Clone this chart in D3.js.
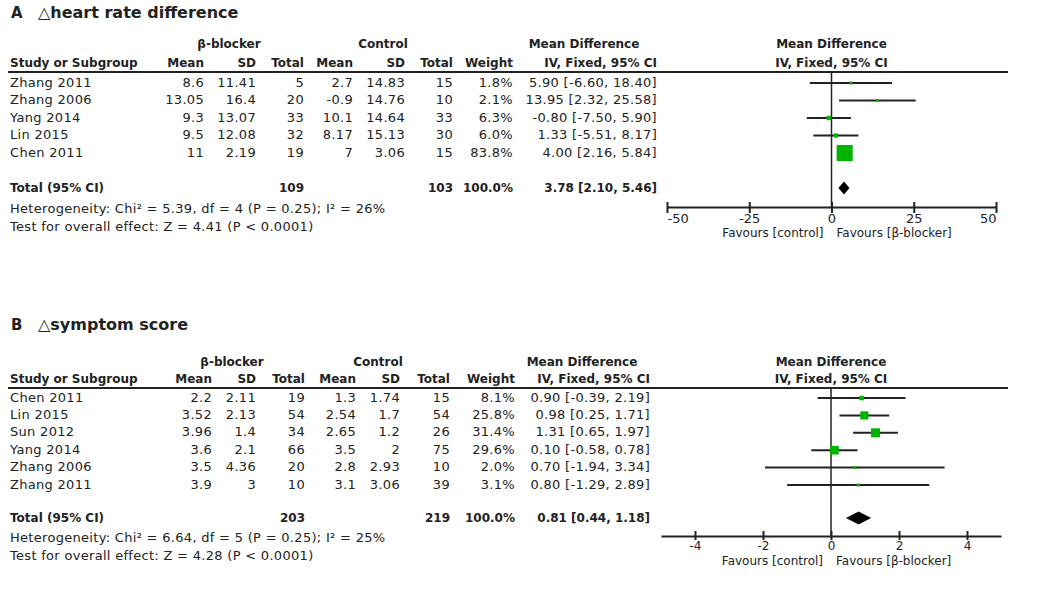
<!DOCTYPE html>
<html>
<head>
    <meta charset="utf-8">
    <script src="https://d3js.org/d3.v7.min.js"></script>
    <style>
        body { margin: 0; background: #fff; }
        svg text { font-family: "DejaVu Sans", sans-serif; fill: #222; }
        .reg { letter-spacing: 0.3px; }
        .bold { font-weight: bold; }
    </style>
</head>
<body>
<script>
    // ---- panel A data: heart rate difference
    var studiesA = ["Zhang 2011", "Zhang 2006", "Yang 2014", "Lin 2015", "Chen 2011"];
    var bMeanA = ["8.6", "13.05", "9.3", "9.5", "11"];
    var bSdA = ["11.41", "16.4", "13.07", "12.08", "2.19"];
    var bNA = [5, 20, 33, 32, 19];
    var cMeanA = ["2.7", "-0.9", "10.1", "8.17", "7"];
    var cSdA = ["14.83", "14.76", "14.64", "15.13", "3.06"];
    var cNA = [15, 10, 33, 30, 15];
    var weightA = [1.8, 2.1, 6.3, 6.0, 83.8];
    var mdA = [5.90, 13.95, -0.80, 1.33, 4.00];
    var lowA = [-6.60, 2.32, -7.50, -5.51, 2.16];
    var highA = [18.40, 25.58, 5.90, 8.17, 5.84];
    var totalA = { bN: 109, cN: 103, md: 3.78, low: 2.10, high: 5.46 };
    var hetA = "Heterogeneity: Chi\u00b2 = 5.39, df = 4 (P = 0.25); I\u00b2 = 26%";
    var testA = "Test for overall effect: Z = 4.41 (P < 0.0001)";
    var ticksA = [-50, -25, 0, 25, 50];

    // ---- panel B data: symptom score
    var studiesB = ["Chen 2011", "Lin 2015", "Sun 2012", "Yang 2014", "Zhang 2006", "Zhang 2011"];
    var bMeanB = ["2.2", "3.52", "3.96", "3.6", "3.5", "3.9"];
    var bSdB = ["2.11", "2.13", "1.4", "2.1", "4.36", "3"];
    var bNB = [19, 54, 34, 66, 20, 10];
    var cMeanB = ["1.3", "2.54", "2.65", "3.5", "2.8", "3.1"];
    var cSdB = ["1.74", "1.7", "1.2", "2", "2.93", "3.06"];
    var cNB = [15, 54, 26, 75, 10, 39];
    var weightB = [8.1, 25.8, 31.4, 29.6, 2.0, 3.1];
    var mdB = [0.90, 0.98, 1.31, 0.10, 0.70, 0.80];
    var lowB = [-0.39, 0.25, 0.65, -0.58, -1.94, -1.29];
    var highB = [2.19, 1.71, 1.97, 0.78, 3.34, 2.89];
    var totalB = { bN: 203, cN: 219, md: 0.81, low: 0.44, high: 1.18 };
    var hetB = "Heterogeneity: Chi\u00b2 = 6.64, df = 5 (P = 0.25); I\u00b2 = 25%";
    var testB = "Test for overall effect: Z = 4.28 (P < 0.0001)";
    var ticksB = [-4, -2, 0, 2, 4];

    var svg = d3.select("body").append("svg")
        .attr("width", 1045)
        .attr("height", 589);

    function drawPanel(p) {
        var g = svg.append("g");
        var cols = p.cols;

        // title
        g.append("text").attr("x", 11).attr("y", p.titleY)
            .attr("dominant-baseline", "middle")
            .attr("class", "bold").style("font-size", "15px").text(p.letter);
        g.append("text").attr("x", 38).attr("y", p.titleY)
            .attr("dominant-baseline", "middle")
            .attr("class", "bold").style("font-size", "16px").text(p.title);

        function txt(x, y, s, anchor, bold) {
            return g.append("text")
                .attr("x", x).attr("y", y)
                .attr("dominant-baseline", "middle")
                .attr("text-anchor", anchor || "end")
                .attr("class", bold ? "bold" : "reg")
                .style("font-size", bold ? "12px" : "13px")
                .text(s);
        }

        // group headers
        txt(p.grpB, p.h1, "\u03b2-blocker", "middle", true);
        txt(p.grpC, p.h1, "Control", "middle", true);
        txt(p.mdCenter, p.h1, "Mean Difference", "middle", true);
        txt(p.x(0), p.h1, "Mean Difference", "middle", true);

        txt(10, p.h2, "Study or Subgroup", "start", true);
        var heads = ["Mean", "SD", "Total", "Mean", "SD", "Total", "Weight"];
        heads.forEach(function(h, i) { txt(cols[i], p.h2, h, "end", true); });
        txt(p.mdRight, p.h2, "IV, Fixed, 95% CI", "end", true);
        txt(p.x(0), p.h2, "IV, Fixed, 95% CI", "middle", true);

        g.append("line").attr("x1", 8).attr("x2", 1008)
            .attr("y1", p.lineY).attr("y2", p.lineY)
            .attr("stroke", "#222").attr("stroke-width", 2);

        // zero line
        g.append("line").attr("x1", p.x(0)).attr("x2", p.x(0))
            .attr("y1", p.lineY).attr("y2", p.axisY)
            .attr("stroke", "#222").attr("stroke-width", 1.5);

        var y = d3.scalePoint().domain(p.studies).range([p.rowsY[0], p.rowsY[1]]);

        p.studies.forEach(function(s, i) {
            var yy = y(s);
            txt(10, yy, s, "start");
            txt(cols[0], yy, p.bMean[i]);
            txt(cols[1], yy, p.bSd[i]);
            txt(cols[2], yy, p.bN[i]);
            txt(cols[3], yy, p.cMean[i]);
            txt(cols[4], yy, p.cSd[i]);
            txt(cols[5], yy, p.cN[i]);
            txt(cols[6], yy, p.weight[i].toFixed(1) + "%");
            txt(p.mdRight, yy, p.md[i].toFixed(2) + " [" + p.low[i].toFixed(2) + ", " + p.high[i].toFixed(2) + "]");

            g.append("line")
                .attr("x1", p.x(p.low[i])).attr("x2", p.x(p.high[i]))
                .attr("y1", yy).attr("y2", yy)
                .attr("stroke", "#222").attr("stroke-width", 2);
            var side = Math.max(3, Math.sqrt(p.weight[i]) * p.sq);
            g.append("rect")
                .attr("x", p.x(p.md[i]) - side / 2).attr("y", yy - side / 2)
                .attr("width", side).attr("height", side)
                .attr("fill", "#00b400");
        });

        // total row
        txt(10, p.totalY, "Total (95% CI)", "start", true);
        txt(cols[2], p.totalY, p.total.bN, "end", true);
        txt(cols[5], p.totalY, p.total.cN, "end", true);
        txt(cols[6], p.totalY, "100.0%", "end", true);
        txt(p.mdRight, p.totalY, p.total.md.toFixed(2) + " [" + p.total.low.toFixed(2) + ", " + p.total.high.toFixed(2) + "]", "end", true);

        var dh = 6.5;
        g.append("path")
            .attr("d", "M" + p.x(p.total.low) + "," + p.totalY +
                "L" + p.x(p.total.md) + "," + (p.totalY - dh) +
                "L" + p.x(p.total.high) + "," + p.totalY +
                "L" + p.x(p.total.md) + "," + (p.totalY + dh) + "Z")
            .attr("fill", "#000");

        txt(10, p.hetY, p.het, "start");
        txt(10, p.hetY + 18, p.test, "start");

        // axis
        var rng = p.x.range();
        var axis = g.append("g")
            .attr("transform", "translate(0," + p.axisY + ")")
            .call(d3.axisBottom(p.x).tickValues(p.ticks)
                .tickFormat(function(d) { return String(d); })
                .tickSizeOuter(0).tickSizeInner(p.tickDown).tickPadding(1));
        axis.select(".domain").attr("stroke", "#222").attr("stroke-width", 2);
        axis.selectAll(".tick line").attr("y1", -5).attr("y2", p.tickDown)
            .attr("stroke", "#222").attr("stroke-width", 2);
        axis.selectAll(".tick text")
            .style("font-family", "DejaVu Sans, sans-serif")
            .style("font-size", p.tickFont + "px").attr("fill", "#222")
            .attr("text-anchor", function(d) {
                // labels at the very ends of the axis stay inside it
                if (p.x(d) <= rng[0]) return "start";
                if (p.x(d) >= rng[1]) return "end";
                return "middle";
            });

        g.append("text").attr("x", p.x(0) - 8).attr("y", p.favY)
            .attr("dominant-baseline", "middle").attr("text-anchor", "end")
            .style("font-size", "12px").text("Favours [control]");
        g.append("text").attr("x", p.x(0) + 5).attr("y", p.favY)
            .attr("dominant-baseline", "middle").attr("text-anchor", "start")
            .style("font-size", "12px").text("Favours [\u03b2-blocker]");
    }

    drawPanel({
        letter: "A", title: "\u25b3heart rate difference", titleY: 13,
        h1: 44, h2: 63, lineY: 72, rowsY: [83, 153], totalY: 188, hetY: 209,
        axisY: 207, favY: 233, tickDown: 6, tickFont: 13,
        cols: [204, 256, 304, 353, 405, 453, 513],
        grpB: 229, grpC: 383, mdCenter: 584, mdRight: 657,
        x: d3.scaleLinear().domain([-50, 50]).range([667, 996]),
        ticks: ticksA, sq: 1.75,
        studies: studiesA, bMean: bMeanA, bSd: bSdA, bN: bNA, cMean: cMeanA, cSd: cSdA, cN: cNA,
        weight: weightA, md: mdA, low: lowA, high: highA, total: totalA, het: hetA, test: testA
    });

    drawPanel({
        letter: "B", title: "\u25b3symptom score", titleY: 325,
        h1: 362, h2: 379, lineY: 388, rowsY: [398, 485], totalY: 518, hetY: 538,
        axisY: 536, favY: 561, tickDown: 4, tickFont: 12,
        cols: [212, 256, 305, 356, 400, 450, 515],
        grpB: 232, grpC: 378, mdCenter: 582, mdRight: 650,
        x: d3.scaleLinear().domain([-5, 5]).range([661, 1001]),
        ticks: ticksB, sq: 1.6,
        studies: studiesB, bMean: bMeanB, bSd: bSdB, bN: bNB, cMean: cMeanB, cSd: cSdB, cN: cNB,
        weight: weightB, md: mdB, low: lowB, high: highB, total: totalB, het: hetB, test: testB
    });
</script>
</body>
</html>
